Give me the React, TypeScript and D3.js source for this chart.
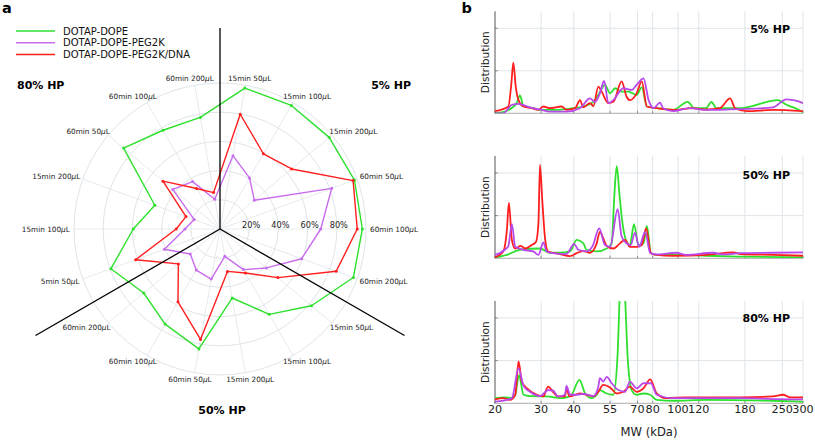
import React from "react";
import * as d3 from "d3";

// ---------- Panel a: radar data ----------
const THETA_LABELS = [
  "15min 50", "15min 100", "15min 200", "60min 50", "60min 100", "60min 200",
  "15min 50", "15min 100", "15min 200", "60min 50", "60min 100", "60min 200",
  "5min 50", "15min 100", "15min 200", "60min 50", "60min 100", "60min 200",
];
const R_TICKS = [20, 40, 60, 80];
const SERIES_NAMES = ["DOTAP-DOPE", "DOTAP-DOPE-PEG2K", "DOTAP-DOPE-PEG2K/DNA"];
const GREEN_RADAR = [98, 97.7, 97.6, 98, 97.5, 97.2, 81.8, 67.5, 48, 83.4, 75.2, 68.2, 79.5, 59.4, 47.5, 86.2, 78.1, 77.6];
const PURPLE_RADAR = [51, 40.4, 30.7, 81.4, 69, 59.5, 41.5, 32.1, 19, 34.8, 32.5, 26.6, 40.5, 24, 18.8, 42.2, 37.5, 20.7];
const RED_RADAR = [79.8, 59.5, 64, 97, 94, 84.7, 51.8, 34.8, 29.5, 76.8, 57.6, 37.2, 61.5, 30, 24.8, 51, 32, 25.3];

// ---------- Panel b: MW distributions ----------
const MW_TICKS = [20, 30, 40, 55, 70, 80, 100, 120, 180, 250, 300];
const Y_GRID = [1, 2];
const PANEL_TITLES = ["5% HP", "50% HP", "80% HP"];

type P = [number, number];
const G5: P[] = [[20,0],[22.2,0.06],[24.2,0.24],[24.9,0.42],[25.7,0.17],[28,0.12],[29.7,0.08],[34.3,0.08],[39.8,0.12],[43.5,0.16],[47.5,0.27],[49.6,0.43],[52.6,0.67],[55,0.47],[57.5,0.59],[60.9,0.51],[64.6,0.51],[69.5,0.43],[72.7,0.61],[76,0.16],[82.9,0.12],[95.6,0.08],[108.9,0.27],[115.5,0.12],[128,0.12],[134,0.27],[140.2,0.12],[172.7,0.12],[240.6,0.31],[259.3,0.2],[297.2,0.04],[300,0.02]];
const R5: P[] = [[20,0.05],[22.5,0.16],[23.1,0.71],[23.5,1.19],[24,0.63],[24.6,0.31],[25.7,0.16],[27.6,0.12],[29.3,0.08],[30.6,0.16],[32.4,0.12],[35.9,0.16],[37.5,0.08],[40.5,0.12],[42.2,0.31],[43.5,0.14],[46.1,0.24],[47.5,0.17],[49.6,0.63],[51.1,0.51],[54.2,0.24],[56.6,0.27],[60.9,0.75],[63.6,0.39],[65.5,0.31],[69.5,0.47],[72.7,0.75],[76,0.16],[82.9,0.12],[95.6,0.08],[113.8,0.12],[128,0.09],[144.4,0.12],[158,0.35],[165.2,0.12],[183.2,0.05],[230.1,0.08],[300,0.05]];
const P5: P[] = [[20,0],[21.5,0],[23.2,0.2],[24.6,0.22],[27.2,0.14],[29.7,0.09],[32.4,0.04],[37.5,0.04],[42.2,0.12],[46.1,0.35],[48.2,0.27],[50.3,0.47],[52.2,0.76],[54.2,0.24],[56.6,0.31],[61.8,0.59],[66.5,0.55],[69.5,0.67],[73.8,0.82],[77.2,0.31],[80.6,0.12],[85.3,0.25],[87.8,0.12],[95.6,0.05],[110.5,0.12],[128,0.08],[172.7,0.1],[230.1,0.14],[259.3,0.33],[275,0.31],[291.9,0.27],[300,0.24]];

const G50: P[] = [[20,0.02],[22.2,0.08],[24.9,0.2],[29.7,0.23],[32.4,0.13],[35.3,0.13],[38.7,0.16],[41,0.43],[43.5,0.35],[44.7,0.2],[48.9,0.16],[53.4,0.23],[55.8,0.35],[57,1.37],[58.3,2.16],[59.7,1.52],[60.9,0.98],[63.6,0.39],[65.5,0.31],[67.9,0.8],[70.6,0.31],[73.8,0.35],[76,0.76],[78.8,0.12],[82.9,0.08],[101.3,0.08],[128,0.06],[172.7,0.04],[300,0.02]];
const R50: P[] = [[20,0.02],[21.5,0.16],[22.2,0.66],[22.6,1.3],[23.2,0.43],[23.9,0.23],[25.1,0.29],[26.1,0.23],[27.6,0.31],[28.7,0.39],[29.3,0.82],[29.7,2.19],[30.3,1.37],[31.1,0.43],[31.9,0.16],[35.3,0.1],[38.7,0.05],[41,0.12],[43.5,0.17],[46.1,0.13],[48.9,0.35],[50.3,0.62],[51.8,0.47],[53.4,0.29],[56.6,0.23],[60,0.35],[62.7,0.43],[65.5,0.27],[69.5,0.27],[72.7,0.31],[75.5,0.7],[78.8,0.12],[82.9,0.08],[95.6,0.06],[128,0.08],[162.8,0.14],[172.7,0.1],[230.1,0.08],[300,0.06]];
const P50: P[] = [[20,0.08],[21.8,0.2],[22.5,0.29],[23.2,0.8],[23.9,0.27],[25.7,0.2],[28,0.16],[29.3,0.08],[30.6,0.37],[31.5,0.16],[33.3,0.12],[37.5,0.1],[40.1,0.34],[41.6,0.2],[44.7,0.16],[47.2,0.29],[50,0.7],[52.6,0.31],[55,0.27],[58.8,1.15],[60.9,0.51],[63.6,0.35],[65.9,0.31],[68.5,0.6],[71,0.27],[74.9,0.62],[78.3,0.12],[82.9,0.09],[98.5,0.13],[107.4,0.08],[136,0.13],[148.8,0.09],[172.7,0.12],[230.1,0.13],[300,0.14]];

const G80: P[] = [[20,0.12],[21.8,0.14],[23.2,0.12],[23.9,0.2],[24.7,0.66],[25.7,0.2],[27.2,0.17],[31.5,0.16],[36.5,0.12],[39.2,0.2],[42,0.55],[44.2,0.23],[46.8,0.12],[48.9,0.2],[50.3,0.31],[53.4,0.23],[56.6,0.2],[58.8,1.17],[60,2.6],[61.3,3.0],[62.6,2.6],[64.2,1.09],[66.5,0.31],[69.5,0.2],[73.8,0.23],[78.3,0.2],[82.9,0.08],[95.6,0.06],[128,0.08],[230.1,0.06],[300,0.04]];
const R80: P[] = [[20,0.09],[21.5,0.12],[22.8,0.08],[23.9,0.2],[24.6,0.98],[25.3,0.51],[26.5,0.35],[28.9,0.2],[30.6,0.16],[31.9,0.39],[33.3,0.27],[34.8,0.16],[37,0.16],[37.5,0.34],[38.5,0.16],[42.2,0.23],[44.7,0.2],[47.5,0.16],[49.6,0.27],[51.8,0.43],[55,0.37],[58.3,0.23],[61.8,0.27],[65.5,0.39],[69.5,0.27],[73.8,0.35],[78.3,0.56],[82.9,0.23],[90.3,0.12],[107.4,0.14],[128,0.14],[172.7,0.14],[230.1,0.16],[251.8,0.2],[267.1,0.14],[300,0.14]];
const P80: P[] = [[20,0.04],[21.5,0.06],[23.2,0.12],[24.6,0.82],[25.7,0.41],[27.2,0.27],[29.7,0.17],[31.9,0.31],[33.3,0.3],[34.8,0.16],[37,0.2],[37.5,0.41],[38.7,0.2],[41,0.2],[43.5,0.22],[47.5,0.17],[49.6,0.39],[50.3,0.59],[51.8,0.51],[53.4,0.62],[55.8,0.47],[59.2,0.31],[62.7,0.27],[65.5,0.51],[69.5,0.35],[73.8,0.47],[78.8,0.47],[82.9,0.2],[95.6,0.12],[128,0.12],[172.7,0.12],[230.1,0.1],[300,0.09]];

const GREEN = "#2ee02e";
const RED = "#ff1e1e";
const PURPLE_A = "#c86cee";
const PURPLE_B = "#b848ea";
const GRID = "#dfe4e8";
const FONT = "DejaVu Sans, sans-serif";

export default function App() {
  // ---- radar geometry ----
  const cx = 220, cy = 229, R = 146;
  const r = d3.scaleLinear().domain([0, 100]).range([0, R]);
  const n = THETA_LABELS.length;
  const ang = d3.scaleLinear().domain([0, n]).range([0, 2 * Math.PI]);
  const angleOf = (i: number) => ang(i + 0.5);
  const radial = d3.lineRadial<number>()
    .angle((_, i) => angleOf(i))
    .radius((v) => r(v))
    .curve(d3.curveLinearClosed);
  const pt = (i: number, v: number) => {
    const a = angleOf(i);
    return [cx + r(v) * Math.sin(a), cy - r(v) * Math.cos(a)];
  };
  const radarSeries = [
    { vals: GREEN_RADAR, color: GREEN },
    { vals: PURPLE_RADAR, color: PURPLE_A },
    { vals: RED_RADAR, color: RED },
  ];
  const ringVals = [...R_TICKS, 100];
  const labelFs = 7.3;
  const r0 = 150;

  // ---- panel b ----
  const x = d3.scaleLog().domain([20, 300]).range([495, 803]);
  const subs = [
    { bottom: 113.3, top: 11.3, data: [G5, R5, P5] },
    { bottom: 258.3, top: 155.9, data: [G50, R50, P50] },
    { bottom: 403.3, top: 300.9, data: [G80, R80, P80] },
  ];
  const bColors = [GREEN, RED, PURPLE_B];

  return (
    <svg width={815} height={442} viewBox="0 0 815 442"
      style={{ position: "absolute", left: 0, top: 0, background: "#fff" }}
      fontFamily={FONT}>
      <rect width={815} height={442} fill="#fff" />
      {/* ---------------- Panel a ---------------- */}
      <text x={2} y={13.3} fontSize={14.5} fontWeight="bold">a</text>
      {/* rings */}
      {ringVals.map((v) => (
        <circle key={v} cx={cx} cy={cy} r={r(v)} fill="none" stroke={GRID} strokeWidth={1} />
      ))}
      {/* radial grid */}
      {THETA_LABELS.map((_, i) => {
        const [x2, y2] = pt(i, 100);
        return <line key={i} x1={cx} y1={cy} x2={x2} y2={y2} stroke={GRID} strokeWidth={0.8} />;
      })}
      {/* r tick labels */}
      {R_TICKS.map((v) => (
        <text key={v} x={cx + r(v) + 2} y={227.5} fontSize={8.2} textAnchor="middle" fill="#222">{v}%</text>
      ))}
      {/* theta labels */}
      {THETA_LABELS.map((lab, i) => {
        const a = angleOf(i);
        const ax = cx + r0 * Math.sin(a), ay = cy - r0 * Math.cos(a);
        const w = (lab.length + 2) * 0.6 * labelFs;
        const h = 0.73 * labelFs;
        const xf = 0.5 - 0.5 * Math.sin(a);
        const yf = 0.5 + 0.5 * Math.cos(a);
        const lx = ax - xf * w;
        const by = ay - yf * h + h;
        return (
          <text key={i} x={lx} y={by} fontSize={labelFs} fill="#222">
            {lab}<tspan fontStyle="italic">μ</tspan>L
          </text>
        );
      })}
      {/* series */}
      {radarSeries.map((s, k) => (
        <g key={k}>
          <path d={radial(s.vals) || ""} transform={`translate(${cx},${cy})`} fill="none"
            stroke={s.color} strokeWidth={1.4} strokeLinejoin="round" />
          {s.vals.map((v, i) => {
            const [px, py] = pt(i, v);
            return <circle key={i} cx={px} cy={py} r={1.5} fill={s.color} />;
          })}
        </g>
      ))}
      {/* sector dividers */}
      {[0, 120, 240].map((deg, k) => {
        const a = (deg * Math.PI) / 180;
        const L = k === 0 ? 201 : 213;
        return <line key={deg} x1={cx} y1={cy} x2={cx + L * Math.sin(a)} y2={cy - L * Math.cos(a)}
          stroke="#000" strokeWidth={1.3} />;
      })}
      {/* sector titles */}
      <text x={411} y={89} fontSize={11} fontWeight="bold" textAnchor="end">{PANEL_TITLES[0]}</text>
      <text x={17} y={89} fontSize={11} fontWeight="bold">{PANEL_TITLES[2]}</text>
      <text x={222} y={414} fontSize={11} fontWeight="bold" textAnchor="middle">{PANEL_TITLES[1]}</text>
      {/* legend */}
      {SERIES_NAMES.map((name, k) => {
        const yy = 31 + k * 11.7;
        const col = [GREEN, PURPLE_A, RED][k];
        return (
          <g key={name}>
            <line x1={16} x2={55} y1={yy} y2={yy} stroke={col} strokeWidth={1.5} />
            <text x={63} y={yy + 3.6} fontSize={10} fill="#111">{name}</text>
          </g>
        );
      })}

      {/* ---------------- Panel b ---------------- */}
      <text x={461.5} y={13.3} fontSize={14.5} fontWeight="bold">b</text>
      <defs>
        {subs.map((s, k) => (
          <clipPath id={`clip${k}`} key={k}>
            <rect x={495} y={s.top} width={308} height={s.bottom - s.top} />
          </clipPath>
        ))}
      </defs>
      {subs.map((s, k) => {
        const y = d3.scaleLinear().domain([0, 2.4]).range([s.bottom, s.top]);
        const line = d3.line<P>().x((d) => x(d[0])).y((d) => y(d[1])).curve(d3.curveMonotoneX);
        return (
          <g key={k}>
            {MW_TICKS.slice(1).map((t) => (
              <line key={t} x1={x(t)} x2={x(t)} y1={s.top} y2={s.bottom} stroke={GRID} strokeWidth={1} />
            ))}
            {Y_GRID.map((t) => (
              <line key={t} x1={495} x2={803} y1={y(t)} y2={y(t)} stroke={GRID} strokeWidth={1} />
            ))}
            <line x1={495} x2={803} y1={s.bottom} y2={s.bottom} stroke="#aaa" strokeWidth={1} />
            {MW_TICKS.map((t) => (
              <line key={t} x1={x(t)} x2={x(t)} y1={s.bottom} y2={s.bottom - 2.5} stroke="#777" strokeWidth={0.8} />
            ))}
            {Y_GRID.map((t) => (
              <line key={t} x1={495} x2={498} y1={y(t)} y2={y(t)} stroke="#777" strokeWidth={0.8} />
            ))}
            <line x1={495} x2={495} y1={s.top} y2={s.bottom} stroke="#555" strokeWidth={1} />
            <g clipPath={`url(#clip${k})`}>
              {s.data.map((d, j) => (
                <path key={j} d={line(d) || ""} fill="none" stroke={bColors[j]} strokeWidth={1.8}
                  strokeLinejoin="round" />
              ))}
            </g>
            <text transform={`translate(489,${(s.top + s.bottom) / 2}) rotate(-90)`} fontSize={10.6}
              textAnchor="middle" fill="#222">Distribution</text>
            <text x={790} y={[33, 179, 322][k]} fontSize={11} fontWeight="bold" textAnchor="end">{PANEL_TITLES[k]}</text>
          </g>
        );
      })}
      {MW_TICKS.map((t) => (
        <text key={t} x={x(t)} y={413} fontSize={11.2} textAnchor="middle" fill="#222">{t}</text>
      ))}
      <text x={649} y={436} fontSize={11.6} textAnchor="middle" fill="#222">MW (kDa)</text>
    </svg>
  );
}
